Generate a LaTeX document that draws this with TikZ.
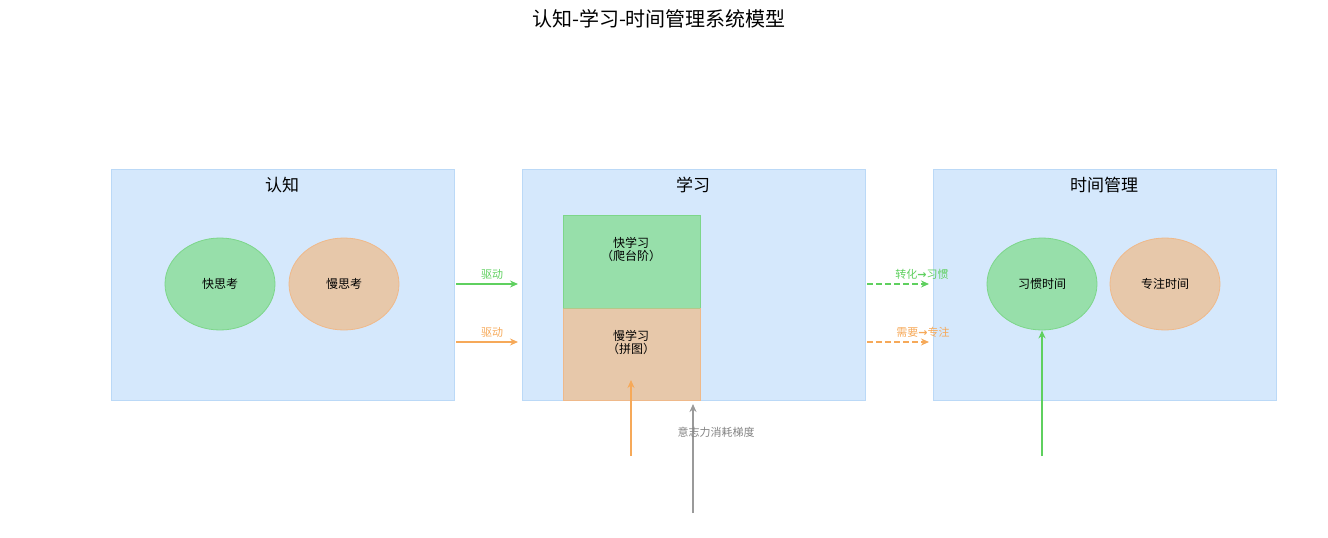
\documentclass[tikz,border=0pt]{standalone}
\usepackage{fontspec}
\setmainfont{Noto Sans CJK SC}
\newfontfamily\symf{DejaVu Sans}
\usetikzlibrary{arrows.meta,shapes.geometric}
\definecolor{boxf}{HTML}{D5E8FC}\definecolor{boxd}{HTML}{BBD9F7}
\definecolor{gf}{HTML}{97DFAA}\definecolor{gd}{HTML}{7DD68A}
\definecolor{of}{HTML}{E7C8AA}\definecolor{od}{HTML}{EFB98A}
\definecolor{ga}{HTML}{5FD05F}\definecolor{oa}{HTML}{F6A959}\definecolor{gr}{HTML}{9A9A9A}
\begin{document}
\begin{tikzpicture}[x=1pt,y=-1pt,
 panel/.style={draw=boxd,fill=boxf,line width=0.8pt},
 ell/.style={ellipse,minimum width=110pt,minimum height=92pt,inner sep=0pt,font=\fontsize{12}{14}\selectfont,line width=0.8pt},
 arr/.style={-{Stealth[length=8pt,width=7pt]},line width=1.6pt},
 lab/.style={font=\fontsize{11}{13}\selectfont}]
\useasboundingbox (0,0) rectangle (1328,538);
\node (title) at (659,19) {\fontsize{20}{24}\selectfont 认知-学习-时间管理系统模型};
\draw[panel] (111,169) rectangle (454,400);
\draw[panel] (522,169) rectangle (865,400);
\draw[panel] (933,169) rectangle (1276,400);
\node (t1) at (282,185) {\fontsize{17}{20}\selectfont 认知};
\node (t2) at (693,185) {\fontsize{17}{20}\selectfont 学习};
\node (t3) at (1104,185) {\fontsize{17}{20}\selectfont 时间管理};
\node[ell,draw=gd,fill=gf] (kuai) at (220,284) {快思考};
\node[ell,draw=od,fill=of] (man) at (344,284) {慢思考};
\node[ell,draw=gd,fill=gf] (xg) at (1042,284) {习惯时间};
\node[ell,draw=od,fill=of] (zz) at (1165,284) {专注时间};
\draw[draw=gd,fill=gf,line width=0.8pt] (563,215) rectangle (700,308);
\draw[draw=od,fill=of,line width=0.8pt] (563,308) rectangle (700,400);
\draw[draw=gd!50!od,line width=0.8pt] (563,308) -- (700,308);
\node[align=center,font=\fontsize{12}{13}\selectfont] (fast) at (631,249) {快学习\\（爬台阶）};
\node[align=center,font=\fontsize{12}{13}\selectfont] (slow) at (631,342) {慢学习\\（拼图）};
\coordinate (a1) at (456,284); \coordinate (b1) at (518,284);
\coordinate (a2) at (456,342); \coordinate (b2) at (518,342);
\draw[arr,ga] (a1) -- (b1); \node[lab,text=ga] at (492,274) {驱动};
\draw[arr,oa] (a2) -- (b2); \node[lab,text=oa] at (492,332) {驱动};
\coordinate (c1) at (867,284); \coordinate (d1) at (929,284);
\coordinate (c2) at (867,342); \coordinate (d2) at (929,342);
\draw[arr,ga,dash pattern=on 6pt off 3pt] (c1) -- (d1); \node[lab,text=ga] at (922,274) {转化{\symf\bfseries →}习惯};
\draw[arr,oa,dash pattern=on 6pt off 3pt] (c2) -- (d2); \node[lab,text=oa] at (923,332) {需要{\symf\bfseries →}专注};
\coordinate (e1) at (631,456); \coordinate (f1) at (631,380);
\draw[arr,oa] (e1) -- (f1);
\coordinate (e2) at (693,513); \coordinate (f2) at (693,404);
\draw[arr,gr] (e2) -- (f2); \node[lab,text=gr!85!black] at (716,432) {意志力消耗梯度};
\coordinate (e3) at (1042,456);
\draw[arr,ga] (e3) -- (xg.south);
\end{tikzpicture}
\end{document}
